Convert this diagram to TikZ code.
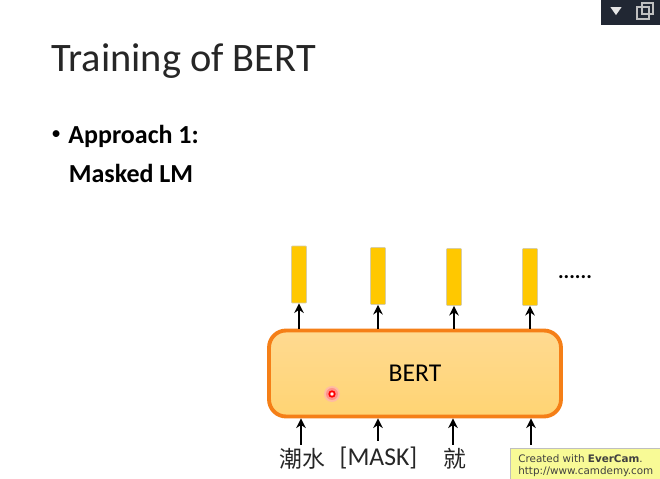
\documentclass[tikz,border=0pt]{standalone}
\usepackage{fontspec}
\setmainfont{Carlito}
\newfontfamily\cjk{Noto Sans CJK TC}
\newfontfamily\memofont{DejaVu Sans}
\usetikzlibrary{arrows.meta,shapes.geometric}
\definecolor{bertline}{RGB}{245,127,23}
\definecolor{berttop}{RGB}{255,218,145}
\definecolor{bertbot}{RGB}{255,212,115}
\definecolor{bartop}{RGB}{255,200,0}
\definecolor{barside}{RGB}{215,205,165}
\definecolor{memofill}{RGB}{248,250,150}
\definecolor{barfill}{RGB}{33,39,51}
\begin{document}
\begin{tikzpicture}[x=0.02cm,y=-0.02cm]
  \tikzstyle{outbar}=[draw=barside,line width=0.4pt,fill=bartop,rounded corners=0.5pt,minimum width=0.3cm,minimum height=1.14cm,inner sep=0pt]
  \tikzstyle{inword}=[inner sep=0pt,text=black!85,font=\fontsize{14.6}{16}\selectfont]
  \tikzstyle{myarrow}=[-{Stealth[length=5.5pt,width=5.5pt]},line width=1.3pt,black]
  \useasboundingbox (0,0) rectangle (660,479);
  \fill[white] (0,0) rectangle (660,479);
  % window buttons
  \fill[barfill] (601,0) rectangle (660,25);
  \node[isosceles triangle,isosceles triangle apex angle=70,shape border rotate=-90,fill=white!90!black,inner sep=0pt,minimum height=0.16cm,minimum width=0.22cm] (btnarrow) at (616,10) {};
  \draw[white!75!black,line width=0.7pt] (637,7) rectangle (649,19);
  \draw[white!75!black,line width=0.7pt] (642,3) rectangle (653,14);
  % text
  \node[anchor=west,inner sep=0pt,text=black!85,font=\fontsize{23}{26}\selectfont] (title) at (51,61) {Training of BERT};
  \node[anchor=west,inner sep=0pt,font=\fontsize{11}{15}\selectfont] (dot) at (51,135) {•};
  \node[anchor=west,inner sep=0pt,font=\bfseries\fontsize{14.8}{17}\selectfont] (appr) at (68,136) {Approach 1:};
  \node[anchor=west,inner sep=0pt,font=\bfseries\fontsize{14.8}{17}\selectfont] (mlm) at (68.5,173) {Masked LM};
  % model
  \node[draw=bertline,line width=2.2pt,rounded corners=0.34cm,top color=berttop,bottom color=bertbot,minimum width=5.84cm,minimum height=1.72cm,inner sep=0pt,font=\fontsize{14.6}{16}\selectfont] (bert) at (415,373.5) {BERT};
  \node[outbar] (o1) at (299,274.5) {};
  \node[outbar] (o2) at (378,276) {};
  \node[outbar] (o3) at (454,277) {};
  \node[outbar] (o4) at (530,277) {};
  \node[inner sep=0pt,font=\bfseries\fontsize{12}{12}\selectfont] (dots) at (575,277) {......};
  \foreach \i in {1,2,3,4} \draw[myarrow] (bert.north -| o\i) -- (o\i);
  % inputs
  \node[inword,font=\cjk\fontsize{13}{15}\selectfont] (w1) at (302,459) {潮水};
  \node[inword] (w2) at (378.5,458) {[MASK]};
  \node[inword,font=\cjk\fontsize{13}{15}\selectfont] (w3) at (455,459) {就};
  \coordinate (w4) at (531,445);
  \coordinate (in1) at (301,445);
  \coordinate (in2) at (378,441);
  \coordinate (in3) at (453,445);
  \foreach \i in {1,2,3} \draw[myarrow] (in\i) -- (in\i |- bert.south);
  \draw[myarrow] (w4) -- (w4 |- bert.south);
  % pointer
  \fill[red!30,opacity=0.7] (332,394) circle (8);
  \fill[red!50,opacity=0.7] (332,394) circle (6);
  \node[circle,draw=red,fill=white,line width=1pt,inner sep=0pt,minimum size=0.11cm] (ptr) at (332,394) {};
  % recorder stamp
  \node[draw=black!25,line width=0.4pt,fill=memofill,minimum width=3cm,minimum height=0.62cm,inner sep=0pt] (stamp) at (585,464) {};
  \node[anchor=west,inner sep=0pt,text=black!75,font=\memofont\fontsize{5.9}{7}\selectfont] (st1) at (518,458.5) {Created with \textbf{EverCam}.};
  \node[anchor=west,inner sep=0pt,text=black!75,font=\memofont\fontsize{5.9}{7}\selectfont] (st2) at (518,472) {http://www.camdemy.com};
\end{tikzpicture}
\end{document}
